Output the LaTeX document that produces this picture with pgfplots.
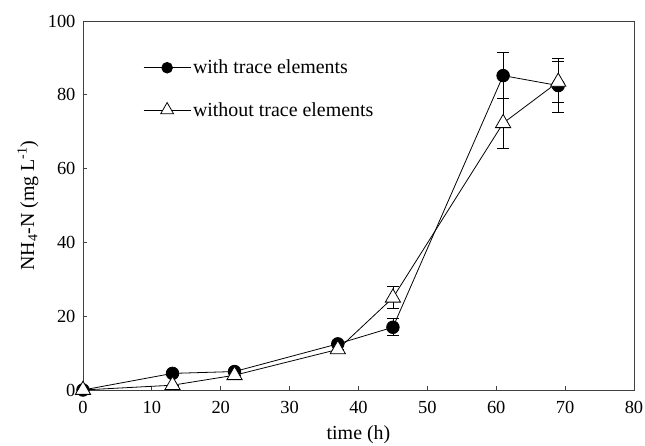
\documentclass[border=0pt]{standalone}
\usepackage{fontspec}
\setmainfont{Liberation Serif}
\usepackage{pgfplots}
\pgfplotsset{compat=1.18}
\begin{document}
\begin{tikzpicture}
\begin{axis}[
 scale only axis, width=551bp, height=369bp,
 xmin=0,xmax=80,ymin=0,ymax=100,
 xtick={0,10,...,80}, ytick={0,20,...,100},
 tick align=inside, xtick pos=bottom, ytick pos=left,
 major tick length=4bp,
 axis line style={black!75, line width=0.9pt},
 tick style={black!75, line width=0.8pt},
 ticklabel style={font=\fontsize{18.5}{20}\selectfont},
 xticklabel style={yshift=-8bp},
 yticklabel style={xshift=-4bp},
 /pgf/number format/assume math mode=true,
 xlabel={time (h)}, ylabel={NH\textsubscript{4}-N (mg L\textsuperscript{-1})},
 label style={font=\fontsize{20}{22}\selectfont},
 xlabel style={at={(axis description cs:0.5,-0.122)}, anchor=center},
 ylabel style={at={(axis description cs:-0.0998,0.5)}, anchor=center},
 legend style={draw=none, fill=none, inner sep=0pt, at={(0.109,0.9)}, anchor=north west, row sep=23bp, font=\fontsize{20}{22}\selectfont, nodes={inner sep=2bp}},
 legend cell align=left,
 legend image code/.code={\draw[#1,mark=none](0bp,0bp)--(47bp,0bp);
   \draw[#1, every mark/.append style={scale=0.85}] plot coordinates {(23.5bp,0bp)};},
]
\coordinate (bbtl) at (rel axis cs:-0.1506,1.0569);
\coordinate (bbbr) at (rel axis cs:1.0200,-0.1491);
\addplot+[black, line width=0.8pt, mark=*, mark size=6.3bp, mark options={fill=black, solid},
  error bars/.cd, y dir=both, y explicit,
  error bar style={line width=0.8pt},
  error mark options={rotate=90, mark size=6bp, line width=0.8pt}]
 table[x=x,y=y,y error=e]{
x y e
0 0 0
13 4.5 0
22 5 0
37 12.5 0
45 17 2.3
61 85.2 6.3
69 82.5 7.4
};
\addlegendentry{with trace elements}
\addplot+[black, line width=0.8pt, mark=triangle*, mark size=8.8bp, mark options={fill=white, solid},
  error bars/.cd, y dir=both, y explicit,
  error bar style={line width=0.8pt},
  error mark options={rotate=90, mark size=6bp, line width=0.8pt}]
 table[x=x,y=y,y error=e]{
x y e
0 0 0
13 1.3 0
22 4 0
37 11 0
45 25 3
61 72.3 6.8
69 83.5 5.5
};
\addlegendentry{without trace elements}
\end{axis}
\pgfresetboundingbox
\path[use as bounding box] (bbtl) rectangle (bbbr);
\end{tikzpicture}
\end{document}
